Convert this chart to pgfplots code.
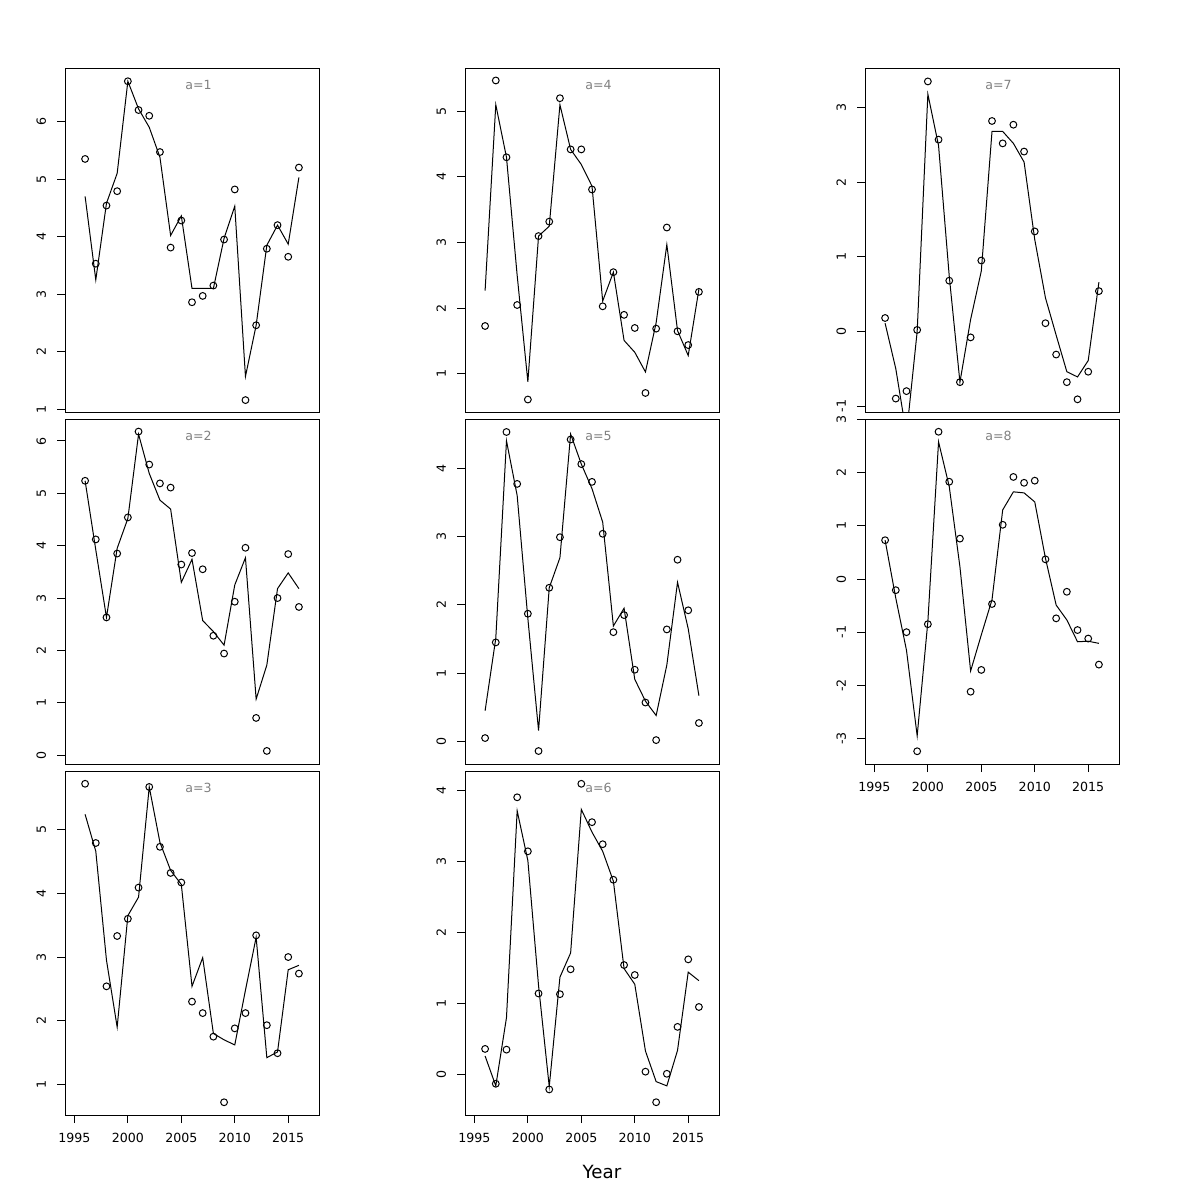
\documentclass[border=0pt]{standalone}
\usepackage{fontspec}
\setmainfont{DejaVu Sans}
\usepackage{pgfplots}
\usepackage{pgfplotstable}
\pgfplotsset{compat=1.18}

\pgfplotstableread{
year p f
1996 5.35 4.70
1997 3.53 3.25
1998 4.54 4.58
1999 4.79 5.10
2000 6.70 6.70
2001 6.20 6.22
2002 6.10 5.90
2003 5.47 5.38
2004 3.81 4.02
2005 4.28 4.36
2006 2.86 3.10
2007 2.97 3.10
2008 3.15 3.10
2009 3.95 3.97
2010 4.82 4.53
2011 1.16 1.57
2012 2.46 2.46
2013 3.79 3.85
2014 4.20 4.20
2015 3.65 3.87
2016 5.20 5.03
}\tA
\pgfplotstableread{
year p f
1996 5.24 5.24
1997 4.12 3.92
1998 2.63 2.63
1999 3.85 3.95
2000 4.54 4.52
2001 6.18 6.13
2002 5.55 5.38
2003 5.19 4.87
2004 5.11 4.70
2005 3.64 3.30
2006 3.86 3.74
2007 3.55 2.57
2008 2.28 2.36
2009 1.94 2.10
2010 2.93 3.25
2011 3.96 3.77
2012 0.71 1.07
2013 0.08 1.72
2014 3.00 3.18
2015 3.84 3.48
2016 2.83 3.18
}\tB
\pgfplotstableread{
year p f
1996 5.72 5.24
1997 4.79 4.66
1998 2.54 2.95
1999 3.33 1.90
2000 3.60 3.65
2001 4.09 3.94
2002 5.67 5.67
2003 4.73 4.80
2004 4.32 4.36
2005 4.17 4.14
2006 2.30 2.54
2007 2.12 2.99
2008 1.75 1.80
2009 0.72 1.70
2010 1.88 1.62
2011 2.12 2.48
2012 3.34 3.31
2013 1.93 1.42
2014 1.49 1.51
2015 3.00 2.80
2016 2.74 2.87
}\tC
\pgfplotstableread{
year p f
1996 1.73 2.27
1997 5.47 5.10
1998 4.30 4.30
1999 2.05 2.50
2000 0.61 0.88
2001 3.10 3.10
2002 3.32 3.25
2003 5.20 5.10
2004 4.42 4.42
2005 4.42 4.19
2006 3.81 3.86
2007 2.03 2.11
2008 2.55 2.55
2009 1.90 1.51
2010 1.70 1.33
2011 0.71 1.03
2012 1.69 1.78
2013 3.23 2.97
2014 1.65 1.66
2015 1.44 1.28
2016 2.25 2.29
}\tD
\pgfplotstableread{
year p f
1996 0.05 0.45
1997 1.45 1.51
1998 4.53 4.40
1999 3.77 3.60
2000 1.87 1.80
2001 -0.14 0.16
2002 2.25 2.25
2003 2.99 2.69
2004 4.42 4.50
2005 4.06 4.06
2006 3.80 3.70
2007 3.04 3.21
2008 1.60 1.69
2009 1.85 1.95
2010 1.05 0.91
2011 0.57 0.59
2012 0.02 0.38
2013 1.64 1.12
2014 2.66 2.33
2015 1.92 1.65
2016 0.27 0.67
}\tE
\pgfplotstableread{
year p f
1996 0.36 0.26
1997 -0.13 -0.16
1998 0.35 0.80
1999 3.90 3.71
2000 3.14 3.01
2001 1.14 1.25
2002 -0.21 -0.17
2003 1.13 1.37
2004 1.48 1.71
2005 4.09 3.73
2006 3.55 3.41
2007 3.24 3.14
2008 2.74 2.72
2009 1.54 1.49
2010 1.40 1.27
2011 0.04 0.33
2012 -0.39 -0.10
2013 0.01 -0.16
2014 0.67 0.34
2015 1.62 1.44
2016 0.95 1.32
}\tF
\pgfplotstableread{
year p f
1996 0.18 0.11
1997 -0.90 -0.50
1998 -0.80 -1.38
1999 0.02 0.00
2000 3.35 3.18
2001 2.57 2.49
2002 0.68 0.74
2003 -0.68 -0.68
2004 -0.08 0.16
2005 0.95 0.81
2006 2.82 2.68
2007 2.52 2.68
2008 2.77 2.52
2009 2.41 2.27
2010 1.34 1.23
2011 0.11 0.45
2012 -0.31 -0.05
2013 -0.68 -0.54
2014 -0.91 -0.61
2015 -0.54 -0.39
2016 0.54 0.66
}\tG
\pgfplotstableread{
year p f
1996 0.73 0.73
1997 -0.21 -0.36
1998 -1.00 -1.34
1999 -3.24 -2.95
2000 -0.85 -0.80
2001 2.77 2.58
2002 1.83 1.74
2003 0.76 0.23
2004 -2.12 -1.73
2005 -1.71 -1.05
2006 -0.47 -0.39
2007 1.02 1.30
2008 1.92 1.64
2009 1.81 1.62
2010 1.85 1.45
2011 0.37 0.39
2012 -0.74 -0.49
2013 -0.24 -0.77
2014 -0.96 -1.18
2015 -1.12 -1.17
2016 -1.61 -1.21
}\tH

\pgfplotsset{
  rpanel/.style={
    scale only axis, width=127pt, height=172pt,
    anchor=south west,
    xmin=1994.12, xmax=2017.88,
    axis line style={line width=0.5pt, black},
    tick align=outside, xtick pos=bottom, ytick pos=left,
    major tick length=4pt,
    every tick/.style={black, line width=0.5pt},
    minor tick num=0,
    xtick=\empty,
    every tick label/.append style={font=\fontsize{6.3}{7}\selectfont},
    yticklabel style={xshift=-2pt, rotate=90, anchor=south},
    xticklabel style={yshift=-1.5pt},
    clip=true,
  },
  withx/.style={
    xtick={1995,2000,2005,2010,2015},
    xticklabels={1995,2000,2005,2010,2015},
  },
  pts/.style={only marks, mark=o, mark size=1.7pt, mark options={line width=0.5pt, black}},
  fit/.style={black, line width=0.5pt, mark=none},
}
\newcommand{\panellabel}[1]{\node[text=black!50, font=\fontsize{6.3}{7}\selectfont] at (rel axis cs:0.526,0.95) {#1};}

\begin{document}
\begin{tikzpicture}
\path[use as bounding box] (0pt,0pt) rectangle (600pt,-600pt);

% column 1
\begin{axis}[rpanel, at={(32.5pt,-206pt)}, ymin=0.953, ymax=6.93,
  ytick={1,2,3,4,5,6}, yticklabels={1,2,3,4,5,6}]
\addplot[pts] table[x=year,y=p] {\tA};
\addplot[fit] table[x=year,y=f] {\tA};
\panellabel{a=1}
\end{axis}
\begin{axis}[rpanel, at={(32.5pt,-382pt)}, height=172.5pt, ymin=-0.17, ymax=6.42,
  ytick={0,1,2,3,4,5,6}, yticklabels={0,1,2,3,4,5,6}]
\addplot[pts] table[x=year,y=p] {\tB};
\addplot[fit] table[x=year,y=f] {\tB};
\panellabel{a=2}
\end{axis}
\begin{axis}[rpanel, withx, at={(32.5pt,-557.5pt)}, ymin=0.52, ymax=5.92,
  ytick={1,2,3,4,5}, yticklabels={1,2,3,4,5}]
\addplot[pts] table[x=year,y=p] {\tC};
\addplot[fit] table[x=year,y=f] {\tC};
\panellabel{a=3}
\end{axis}

% column 2
\begin{axis}[rpanel, at={(232.5pt,-206pt)}, ymin=0.42, ymax=5.66,
  ytick={1,2,3,4,5}, yticklabels={1,2,3,4,5}]
\addplot[pts] table[x=year,y=p] {\tD};
\addplot[fit] table[x=year,y=f] {\tD};
\panellabel{a=4}
\end{axis}
\begin{axis}[rpanel, at={(232.5pt,-382pt)}, height=172.5pt, ymin=-0.33, ymax=4.72,
  ytick={0,1,2,3,4}, yticklabels={0,1,2,3,4}]
\addplot[pts] table[x=year,y=p] {\tE};
\addplot[fit] table[x=year,y=f] {\tE};
\panellabel{a=5}
\end{axis}
\begin{axis}[rpanel, withx, at={(232.5pt,-557.5pt)}, ymin=-0.57, ymax=4.27,
  ytick={0,1,2,3,4}, yticklabels={0,1,2,3,4}]
\addplot[pts] table[x=year,y=p] {\tF};
\addplot[fit] table[x=year,y=f] {\tF};
\panellabel{a=6}
\end{axis}

% column 3
\begin{axis}[rpanel, at={(432.5pt,-206pt)}, ymin=-1.08, ymax=3.53,
  ytick={-1,0,1,2,3}, yticklabels={-1,0,1,2,3}]
\addplot[pts] table[x=year,y=p] {\tG};
\addplot[fit] table[x=year,y=f] {\tG};
\panellabel{a=7}
\end{axis}
\begin{axis}[rpanel, withx, at={(432.5pt,-382pt)}, height=172.5pt, ymin=-3.48, ymax=3.01,
  ytick={-3,-2,-1,0,1,2,3}, yticklabels={-3,-2,-1,0,1,2,3}]
\addplot[pts] table[x=year,y=p] {\tH};
\addplot[fit] table[x=year,y=f] {\tH};
\panellabel{a=8}
\end{axis}

\node[font=\fontsize{9.1}{11}\selectfont] at (301pt,-586pt) {Year};
\end{tikzpicture}
\end{document}
